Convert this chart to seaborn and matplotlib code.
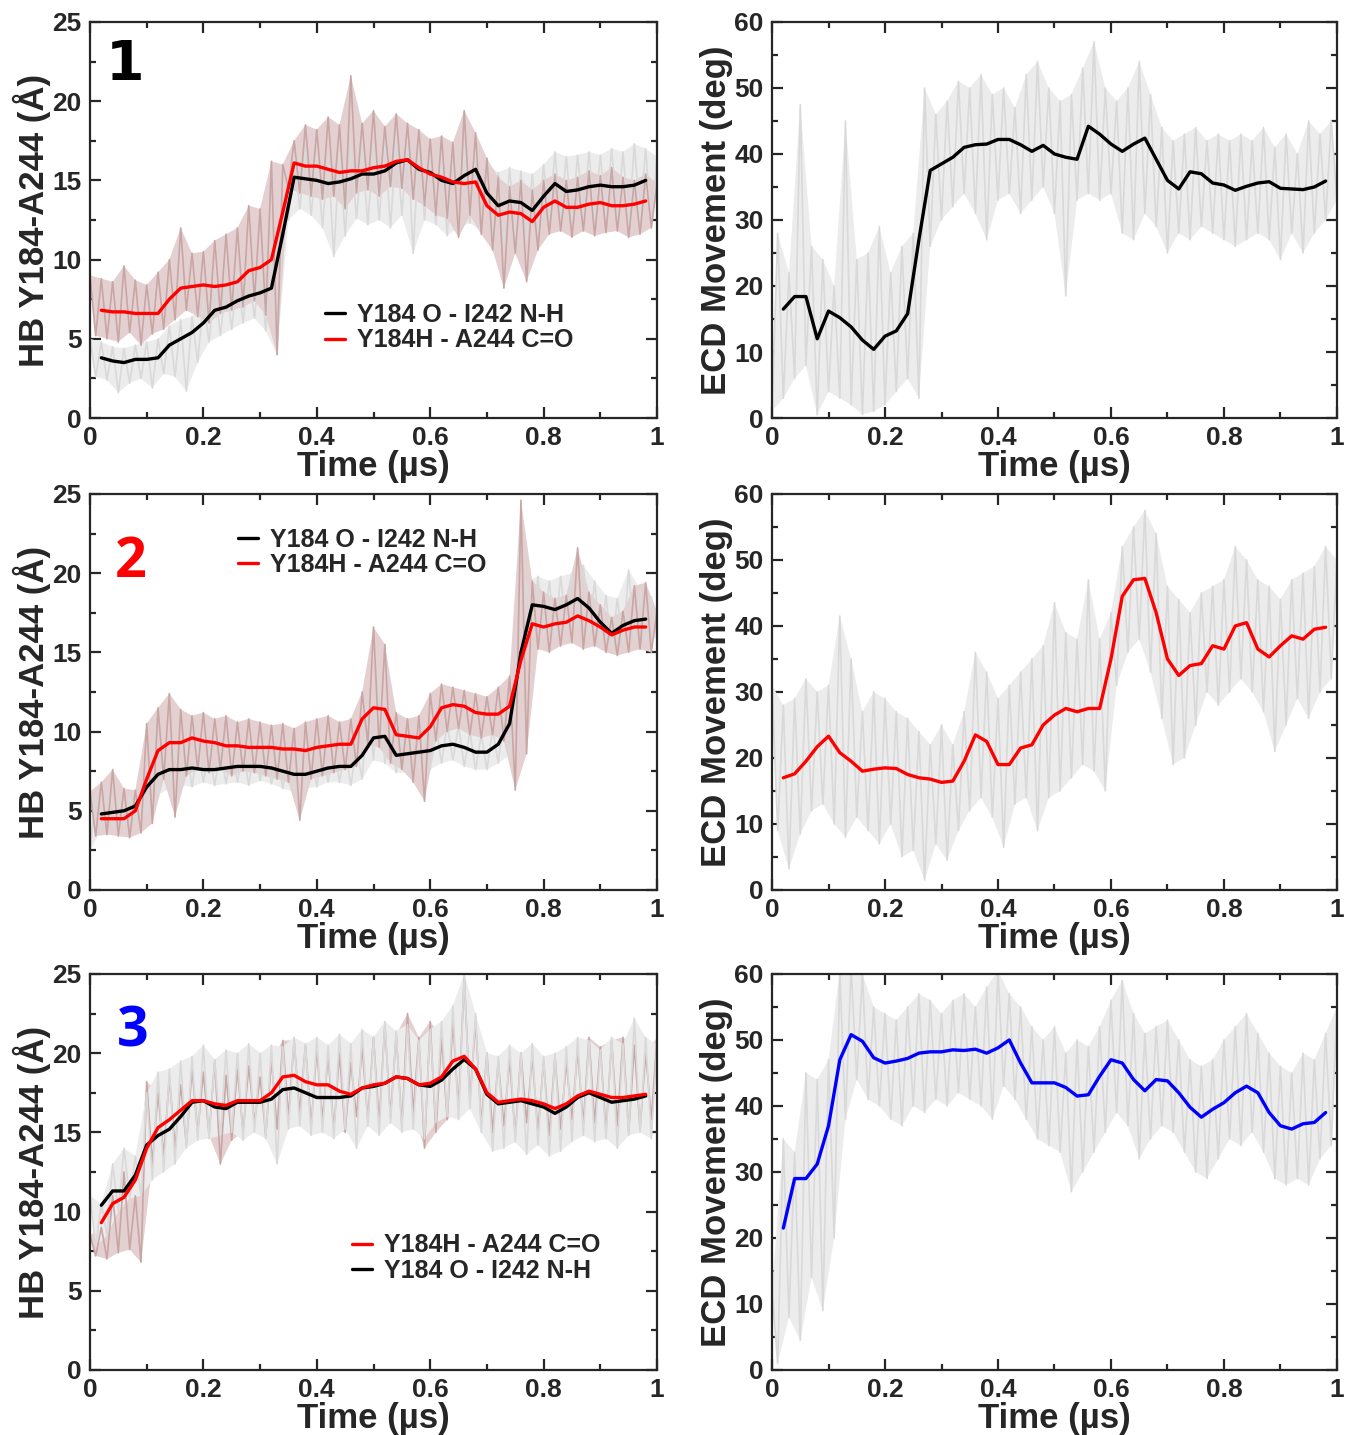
import numpy as np
import matplotlib
matplotlib.use("Agg")
import matplotlib.pyplot as plt
from matplotlib.ticker import MultipleLocator
import seaborn as sns

# time axes (us): raw traces every 0.01, running averages every 0.02
t_raw = np.round(np.linspace(0.0, 1.0, 101), 2)
t_avg = np.round(np.linspace(0.02, 0.98, 49), 2)

# ---------------- system 1 ----------------
hb1_oh_raw = [5.0, 2.6, 4.8, 2.4, 4.5, 1.6, 4.4, 2.2, 4.6, 2.5, 4.8, 1.9, 5.0, 2.8, 5.8, 2.6, 6.2, 1.7, 6.4, 3.5,
              7.5, 4.8, 8.4, 5.2, 8.6, 5.6, 9.2, 6.0, 9.4, 6.3, 9.8, 5.5, 10.5, 4.0, 14.0, 12.5, 16.8, 13.2, 17.0, 12.8,
              16.6, 12.0, 16.5, 10.2, 16.8, 11.5, 17.2, 12.6, 17.0, 12.2, 17.3, 12.5, 17.5, 12.0, 17.8, 12.8, 17.6, 10.4,
              17.2, 12.5, 16.8, 12.2, 16.5, 11.5, 16.6, 12.0, 17.2, 12.3, 17.0, 11.8, 16.0, 11.2, 15.5, 11.0, 15.8, 11.4,
              15.6, 11.2, 15.4, 11.6, 16.0, 12.4, 16.8, 12.6, 16.5, 12.4, 16.6, 12.8, 16.8, 12.5, 16.6, 12.8, 17.0, 12.4,
              16.8, 12.2, 17.3, 12.6, 17.0, 12.0, 16.5]
hb1_hc_raw = [9.0, 5.2, 8.8, 5.0, 8.6, 4.8, 9.6, 5.4, 8.7, 4.6, 8.4, 5.3, 9.2, 5.6, 10.0, 6.2, 12.0, 6.8, 10.4, 6.4,
              10.5, 6.0, 11.2, 6.6, 11.6, 6.8, 12.0, 7.0, 13.4, 7.4, 13.2, 6.5, 16.2, 4.0, 16.0, 14.5, 17.5, 14.2, 18.5,
              14.0, 18.2, 13.8, 19.0, 14.0, 18.5, 13.2, 21.6, 14.2, 18.6, 14.4, 19.4, 14.0, 18.4, 14.6, 19.2, 14.5, 18.6,
              13.8, 18.2, 13.4, 17.6, 12.8, 17.8, 12.6, 17.4, 11.4, 19.4, 12.8, 18.0, 11.6, 16.4, 10.6, 15.2, 8.2, 14.6,
              10.4, 15.0, 8.6, 14.4, 10.6, 15.0, 11.6, 15.4, 11.8, 15.0, 11.4, 15.2, 11.8, 15.6, 11.5, 15.3, 11.7, 15.8,
              11.8, 15.2, 11.4, 15.0, 11.6, 15.4, 12.0, 14.8]
hb1_oh_avg = [3.8, 3.6, 3.5, 3.7, 3.7, 3.8, 4.6, 5.0, 5.4, 6.0, 6.8, 7.0, 7.4, 7.7, 7.9, 8.2, 11.6, 15.2, 15.1, 15.0,
              14.8, 14.9, 15.1, 15.4, 15.4, 15.6, 16.1, 16.3, 15.7, 15.5, 15.0, 14.8, 15.3, 15.7, 14.2, 13.4, 13.7,
              13.6, 13.1, 14.0, 14.8, 14.3, 14.4, 14.6, 14.7, 14.6, 14.6, 14.7, 15.0]
hb1_hc_avg = [6.8, 6.7, 6.7, 6.6, 6.6, 6.6, 7.5, 8.2, 8.3, 8.4, 8.3, 8.4, 8.6, 9.3, 9.5, 10.0, 13.0, 16.1, 15.9, 15.9,
              15.7, 15.5, 15.6, 15.6, 15.8, 15.9, 16.2, 16.3, 15.8, 15.4, 15.2, 14.9, 14.8, 14.9, 13.4, 12.8, 13.0,
              12.9, 12.4, 13.3, 13.7, 13.3, 13.3, 13.5, 13.6, 13.4, 13.4, 13.5, 13.7]
ecd1_raw = [1.0, 28.0, 3.0, 22.0, 6.0, 47.5, 8.0, 26.0, 0.5, 24.0, 4.0, 20.0, 3.0, 45.0, 2.0, 24.0, 0.5, 25.0, 1.0,
            29.0, 2.0, 22.0, 4.0, 26.0, 6.0, 28.0, 3.0, 50.0, 26.0, 46.0, 30.0, 48.0, 32.0, 51.0, 34.0, 50.0, 31.0,
            52.0, 27.0, 49.0, 33.0, 50.0, 34.0, 47.0, 31.0, 52.0, 33.0, 54.0, 35.0, 50.0, 31.0, 48.0, 18.5, 49.0,
            33.0, 53.0, 34.0, 57.0, 33.0, 50.0, 34.0, 48.0, 28.0, 50.0, 27.0, 54.0, 31.0, 49.0, 29.0, 44.0, 25.0,
            42.0, 28.0, 43.0, 27.0, 44.0, 29.0, 42.0, 28.0, 43.0, 27.0, 42.0, 26.0, 43.0, 27.0, 42.0, 28.0, 44.0,
            27.0, 41.0, 24.0, 43.0, 28.0, 40.0, 25.0, 45.0, 28.0, 43.0, 30.0, 45.0, 33.0]
ecd1_avg = [16.5, 18.4, 18.4, 12.0, 16.2, 15.2, 13.8, 11.8, 10.4, 12.4, 13.2, 15.8, 27.0, 37.5, 38.5, 39.5, 41.0,
            41.4, 41.5, 42.2, 42.2, 41.4, 40.4, 41.3, 40.0, 39.5, 39.2, 44.2, 43.0, 41.5, 40.4, 41.5, 42.4, 39.2,
            36.0, 34.7, 37.3, 37.0, 35.6, 35.3, 34.5, 35.1, 35.6, 35.8, 34.8, 34.7, 34.6, 35.0, 35.9]

# ---------------- system 2 ----------------
hb2_oh_raw = [2.5, 6.0, 3.8, 6.2, 3.9, 5.8, 4.0, 6.0, 4.2, 6.4, 4.8, 8.0, 6.0, 8.6, 6.4, 8.8, 6.6, 8.9, 6.5, 9.0,
              6.8, 8.8, 6.6, 8.9, 6.7, 9.0, 6.8, 8.8, 6.6, 9.2, 6.9, 8.8, 6.7, 8.6, 6.4, 8.5, 6.2, 8.4, 6.4, 8.6,
              6.5, 8.8, 6.8, 9.0, 6.8, 9.0, 6.6, 9.0, 7.0, 11.8, 8.2, 13.5, 8.0, 10.5, 7.4, 9.6, 7.4, 9.8, 7.6, 10.0,
              7.6, 10.4, 8.0, 10.5, 8.2, 10.4, 7.8, 10.0, 7.6, 9.8, 7.6, 10.2, 8.0, 11.0, 8.5, 13.0, 14.0, 19.5, 16.0,
              19.8, 16.2, 19.5, 16.0, 19.8, 16.4, 20.0, 16.5, 20.5, 16.2, 19.5, 15.5, 18.6, 15.2, 18.4, 15.5, 20.2,
              15.8, 19.0, 15.6, 18.5, 16.0]
hb2_hc_raw = [6.2, 3.4, 6.8, 3.5, 7.6, 3.4, 6.4, 3.3, 6.3, 3.6, 10.5, 4.2, 11.5, 7.0, 12.4, 4.6, 11.4, 7.2, 11.0, 7.6,
              11.2, 7.4, 10.8, 7.6, 11.0, 7.2, 10.6, 7.5, 10.8, 7.4, 10.6, 7.2, 10.4, 7.0, 10.5, 6.8, 10.2, 4.4, 10.6,
              7.0, 10.8, 7.2, 11.0, 7.4, 10.6, 7.6, 10.8, 7.8, 12.5, 9.2, 16.6, 9.0, 15.5, 8.0, 11.2, 7.6, 10.8, 6.8,
              11.0, 5.6, 12.4, 9.4, 13.0, 10.0, 12.8, 10.2, 12.6, 9.8, 12.4, 9.6, 12.2, 9.8, 12.8, 9.4, 13.5, 6.3,
              24.6, 8.6, 19.5, 15.2, 18.8, 15.0, 18.4, 15.4, 18.6, 15.6, 21.6, 15.2, 18.8, 15.4, 18.0, 15.0, 17.2,
              14.8, 17.6, 15.0, 19.2, 15.2, 19.4, 15.0, 17.6]
hb2_oh_avg = [4.8, 4.9, 5.0, 5.3, 6.5, 7.3, 7.6, 7.6, 7.7, 7.6, 7.6, 7.7, 7.8, 7.8, 7.8, 7.7, 7.5, 7.3, 7.3, 7.5,
              7.7, 7.8, 7.8, 8.5, 9.6, 9.7, 8.5, 8.6, 8.7, 8.8, 9.1, 9.2, 9.0, 8.7, 8.7, 9.2, 10.5, 15.0, 18.0, 17.9,
              17.7, 18.0, 18.4, 17.8, 16.9, 16.2, 16.7, 17.0, 17.1]
hb2_hc_avg = [4.5, 4.5, 4.5, 5.0, 7.0, 8.8, 9.3, 9.3, 9.6, 9.4, 9.3, 9.1, 9.1, 9.0, 9.0, 9.0, 8.9, 8.9, 8.8, 9.0,
              9.1, 9.2, 9.2, 10.8, 11.5, 11.4, 9.8, 9.7, 9.6, 10.3, 11.5, 11.7, 11.6, 11.2, 11.1, 11.1, 11.6, 14.5,
              16.8, 16.6, 16.8, 16.9, 17.3, 17.0, 16.6, 16.1, 16.4, 16.6, 16.6]
ecd2_raw = [31.0, 9.0, 28.0, 3.2, 29.0, 8.5, 32.0, 12.0, 30.0, 13.0, 31.0, 10.0, 41.5, 8.0, 35.0, 11.0, 27.0, 9.0,
            30.0, 7.0, 29.0, 10.0, 27.0, 5.0, 26.0, 6.0, 24.0, 1.5, 22.0, 7.0, 25.0, 4.5, 22.0, 9.0, 27.0, 12.0,
            36.0, 14.0, 33.0, 11.0, 29.0, 6.5, 31.0, 13.0, 33.0, 14.0, 35.0, 9.0, 37.0, 14.0, 43.5, 15.0, 39.0,
            17.0, 38.0, 19.0, 47.0, 18.0, 38.0, 15.0, 42.0, 31.0, 52.0, 36.0, 55.0, 38.0, 57.5, 33.0, 54.0, 26.0,
            46.0, 19.0, 44.0, 20.0, 42.0, 25.0, 45.0, 30.0, 46.0, 28.0, 47.0, 30.0, 52.0, 32.0, 50.0, 30.0, 47.0,
            27.0, 46.0, 21.0, 44.0, 25.0, 47.0, 29.0, 48.0, 26.0, 49.0, 30.0, 52.0, 32.0, 50.0]
ecd2_avg = [17.0, 17.6, 19.5, 21.7, 23.3, 20.8, 19.5, 18.0, 18.3, 18.5, 18.4, 17.5, 17.0, 16.8, 16.3, 16.5, 19.5,
            23.5, 22.5, 19.0, 19.0, 21.5, 22.0, 25.0, 26.5, 27.5, 27.0, 27.5, 27.5, 35.0, 44.5, 47.0, 47.2, 42.0,
            35.0, 32.5, 34.0, 34.3, 37.0, 36.5, 40.0, 40.5, 36.5, 35.3, 37.0, 38.5, 38.0, 39.5, 39.8]

# ---------------- system 3 ----------------
hb3_oh_raw = [11.0, 7.8, 10.5, 8.5, 13.0, 10.0, 14.0, 10.8, 13.5, 11.0, 17.5, 12.0, 18.8, 12.5, 19.0, 13.0, 19.5,
              14.0, 19.8, 14.5, 20.5, 14.6, 19.6, 14.8, 20.2, 15.0, 20.0, 14.5, 20.6, 15.0, 20.0, 14.6, 20.5, 13.0,
              20.4, 15.2, 21.0, 15.4, 20.6, 14.8, 21.0, 15.0, 20.5, 14.6, 21.2, 15.2, 20.6, 14.0, 21.5, 15.4, 21.0,
              14.8, 22.0, 15.6, 21.4, 15.0, 21.8, 15.2, 20.8, 14.6, 21.5, 15.6, 22.0, 16.0, 23.0, 15.8, 25.0, 16.5,
              22.5, 15.0, 20.0, 13.8, 19.8, 14.0, 20.5, 14.4, 20.0, 13.6, 20.6, 14.2, 19.8, 13.5, 20.0, 13.8, 20.4,
              14.4, 21.0, 14.8, 20.8, 14.4, 20.2, 14.6, 21.0, 14.0, 20.6, 14.8, 22.2, 15.0, 21.0, 14.6, 20.5]
hb3_hc_raw = [8.5, 7.2, 9.0, 7.0, 11.0, 7.4, 12.5, 7.6, 11.0, 6.8, 18.2, 13.0, 17.5, 13.5, 18.5, 14.0, 18.0, 14.2,
              19.0, 15.0, 18.8, 14.8, 19.5, 13.0, 18.6, 14.5, 19.0, 15.0, 19.2, 15.6, 18.5, 14.8, 19.6, 15.2, 20.8,
              16.0, 20.8, 16.2, 20.5, 15.4, 20.2, 15.8, 19.8, 15.2, 20.0, 15.0, 19.4, 16.0, 20.4, 15.8, 21.0, 15.6,
              21.8, 16.0, 21.2, 15.4, 22.5, 16.2, 21.0, 14.0, 22.0, 15.0, 21.0, 15.8, 22.0, 16.5, 24.8, 17.0, 22.0,
              15.5, 20.0, 15.0, 19.5, 15.4, 19.6, 14.8, 20.0, 15.6, 19.8, 15.0, 19.5, 14.8, 19.8, 15.2, 19.4, 15.8,
              20.2, 15.5, 21.0, 15.6, 20.4, 15.0, 20.8, 15.4, 21.0, 15.0, 20.5, 15.2, 20.0, 15.8, 21.0]
hb3_oh_avg = [10.4, 11.3, 11.3, 12.3, 14.2, 14.8, 15.2, 16.0, 16.9, 17.0, 16.6, 16.5, 16.9, 16.9, 16.9, 17.1, 17.7,
              17.8, 17.5, 17.2, 17.2, 17.2, 17.3, 17.8, 17.9, 18.1, 18.5, 18.4, 18.0, 17.9, 18.3, 19.0, 19.6, 19.0,
              17.4, 16.8, 16.9, 17.0, 16.8, 16.6, 16.2, 16.6, 17.2, 17.5, 17.2, 16.9, 17.0, 17.1, 17.3]
hb3_hc_avg = [9.3, 10.5, 10.9, 12.0, 14.0, 15.3, 15.8, 16.4, 17.0, 17.0, 16.8, 16.7, 17.0, 17.0, 17.0, 17.5, 18.5,
              18.6, 18.2, 18.0, 18.0, 17.6, 17.4, 17.8, 18.0, 18.1, 18.5, 18.4, 18.0, 18.1, 18.5, 19.5, 19.8, 19.0,
              17.5, 16.9, 17.0, 17.1, 17.0, 16.8, 16.5, 16.8, 17.3, 17.6, 17.4, 17.2, 17.2, 17.3, 17.4]
ecd3_raw = [12.0, 1.0, 35.0, 8.0, 33.0, 4.5, 45.0, 14.0, 44.0, 9.0, 47.0, 20.0, 60.5, 38.0, 61.0, 44.0, 60.0, 41.0,
            55.0, 40.0, 54.0, 38.0, 53.0, 37.0, 55.0, 40.0, 57.0, 39.0, 56.0, 41.0, 54.0, 40.0, 56.0, 42.0, 57.0,
            41.0, 55.0, 40.0, 58.0, 38.0, 60.5, 43.0, 57.0, 41.0, 55.0, 38.0, 52.0, 35.0, 50.0, 34.0, 52.0, 33.0,
            48.0, 27.0, 50.0, 30.0, 49.0, 33.0, 52.0, 36.0, 56.0, 39.0, 59.0, 37.0, 54.0, 32.0, 51.0, 35.0, 52.0,
            37.0, 53.0, 36.0, 50.0, 33.0, 47.0, 30.0, 46.0, 29.0, 47.0, 32.0, 50.0, 35.0, 52.0, 34.0, 54.0, 36.0,
            51.0, 33.0, 48.0, 29.0, 46.0, 28.0, 45.0, 29.0, 48.0, 28.0, 47.0, 32.0, 51.0, 34.0, 55.0]
ecd3_avg = [21.5, 29.0, 29.0, 31.2, 37.0, 47.0, 50.8, 49.8, 47.3, 46.5, 46.8, 47.2, 48.0, 48.2, 48.2, 48.5, 48.4,
            48.6, 48.0, 48.8, 50.0, 46.5, 43.5, 43.5, 43.5, 42.8, 41.5, 41.7, 44.5, 47.0, 46.5, 44.0, 42.3, 44.0,
            43.8, 42.0, 39.8, 38.3, 39.5, 40.5, 42.0, 43.0, 42.0, 39.0, 37.0, 36.5, 37.3, 37.5, 39.0]

lbl_oh = "Y184 O - I242 N-H"
lbl_hc = "Y184H - A244 C=O"

GRAY, GRAY_FILL = "#d9d9d9", "#ececec"
BROWN, BROWN_FILL = "#c8a6a6", "#e4d0d0"

sns.set_style("ticks")
plt.rcParams['font.family'] = ['Liberation Sans', 'DejaVu Sans']
plt.rcParams['font.weight'] = 'bold'
plt.rcParams['axes.linewidth'] = 1.6

fig = plt.figure(figsize=(13.45, 14.35), dpi=100)
lefts = [0.0669, 0.574]
widths = [0.4216, 0.420]
bottoms = [0.7087, 0.3798, 0.0453]
height = 0.276


def raw_trace(ax, vals, col, fill_col):
    # band between the alternating peaks/troughs of the raw trace, then the trace itself
    v = np.asarray(vals)
    px = np.concatenate([t_raw[0::2], t_raw[1::2][::-1]])
    py = np.concatenate([v[0::2], v[1::2][::-1]])
    ax.fill(px, py, color=fill_col, lw=0)
    sns.lineplot(x=t_raw, y=vals, ax=ax, color=col, lw=1.2, estimator=None, sort=False)


def style_axes(ax, ymax, ymajor, yminor):
    ax.set_xlim(0, 1)
    ax.set_ylim(0, ymax)
    ax.xaxis.set_major_locator(MultipleLocator(0.2))
    ax.xaxis.set_minor_locator(MultipleLocator(0.1))
    ax.yaxis.set_major_locator(MultipleLocator(ymajor))
    ax.yaxis.set_minor_locator(MultipleLocator(yminor))
    ax.tick_params(which='both', direction='in', top=True, right=True, width=1.6, labelsize=19, pad=6)
    ax.tick_params(which='major', length=8)
    ax.tick_params(which='minor', length=4)
    ax.xaxis.set_major_formatter(plt.FuncFormatter(lambda v, p: f"{v:g}"))
    for lab in ax.get_xticklabels() + ax.get_yticklabels():
        lab.set_fontweight('bold')
    ax.set_xlabel("Time (µs)", fontsize=25, fontweight='bold', labelpad=0)


def hb_panel(ax, oh_raw, hc_raw, oh_avg, hc_avg, gray_on_top, red_first, tag, tag_color, tag_xy, tag_font, leg_xy):
    raws = [(hc_raw, BROWN, BROWN_FILL), (oh_raw, GRAY, GRAY_FILL)]
    if not gray_on_top:
        raws = raws[::-1]
    for vals, col, fcol in raws:
        raw_trace(ax, vals, col, fcol)
    la = sns.lineplot(x=t_avg, y=oh_avg, ax=ax, color='black', lw=2.4, estimator=None).lines[-1]
    lb = sns.lineplot(x=t_avg, y=hc_avg, ax=ax, color='red', lw=2.4, estimator=None).lines[-1]
    style_axes(ax, 25, 5, 2.5)
    ax.set_ylabel("HB Y184-A244 (Å)", fontsize=25, fontweight='bold', labelpad=1)
    handles = [lb, la] if red_first else [la, lb]
    labels = [lbl_hc, lbl_oh] if red_first else [lbl_oh, lbl_hc]
    ax.legend(handles, labels, loc='upper left', bbox_to_anchor=leg_xy, frameon=False,
              prop={'weight': 'bold', 'size': 18}, handlelength=0.8, handletextpad=0.5,
              labelspacing=0.05, borderaxespad=0, borderpad=0)
    ax.text(tag_xy[0], tag_xy[1], tag, transform=ax.transAxes, color=tag_color, fontsize=40,
            fontweight='bold', family=tag_font, ha='center', va='center')


def ecd_panel(ax, raw, avg, color):
    raw_trace(ax, raw, GRAY, GRAY_FILL)
    sns.lineplot(x=t_avg, y=avg, ax=ax, color=color, lw=2.4, estimator=None)
    style_axes(ax, 60, 10, 5)
    ax.set_ylabel("ECD Movement (deg)", fontsize=25, fontweight='bold', labelpad=1)


axes = [[fig.add_axes([l, b, w, height]) for l, w in zip(lefts, widths)] for b in bottoms]

hb_panel(axes[0][0], hb1_oh_raw, hb1_hc_raw, hb1_oh_avg, hb1_hc_avg, False, False,
         "1", "black", (0.062, 0.891), 'DejaVu Sans', (0.414, 0.29))
hb_panel(axes[1][0], hb2_oh_raw, hb2_hc_raw, hb2_oh_avg, hb2_hc_avg, False, False,
         "2", "red", (0.071, 0.826), 'Open Sans', (0.261, 0.915))
hb_panel(axes[2][0], hb3_oh_raw, hb3_hc_raw, hb3_oh_avg, hb3_hc_avg, True, True,
         "3", "blue", (0.076, 0.853), 'Open Sans', (0.462, 0.345))

ecd_panel(axes[0][1], ecd1_raw, ecd1_avg, 'black')
ecd_panel(axes[1][1], ecd2_raw, ecd2_avg, 'red')
ecd_panel(axes[2][1], ecd3_raw, ecd3_avg, 'blue')

fig.savefig("out.png", dpi=100)
